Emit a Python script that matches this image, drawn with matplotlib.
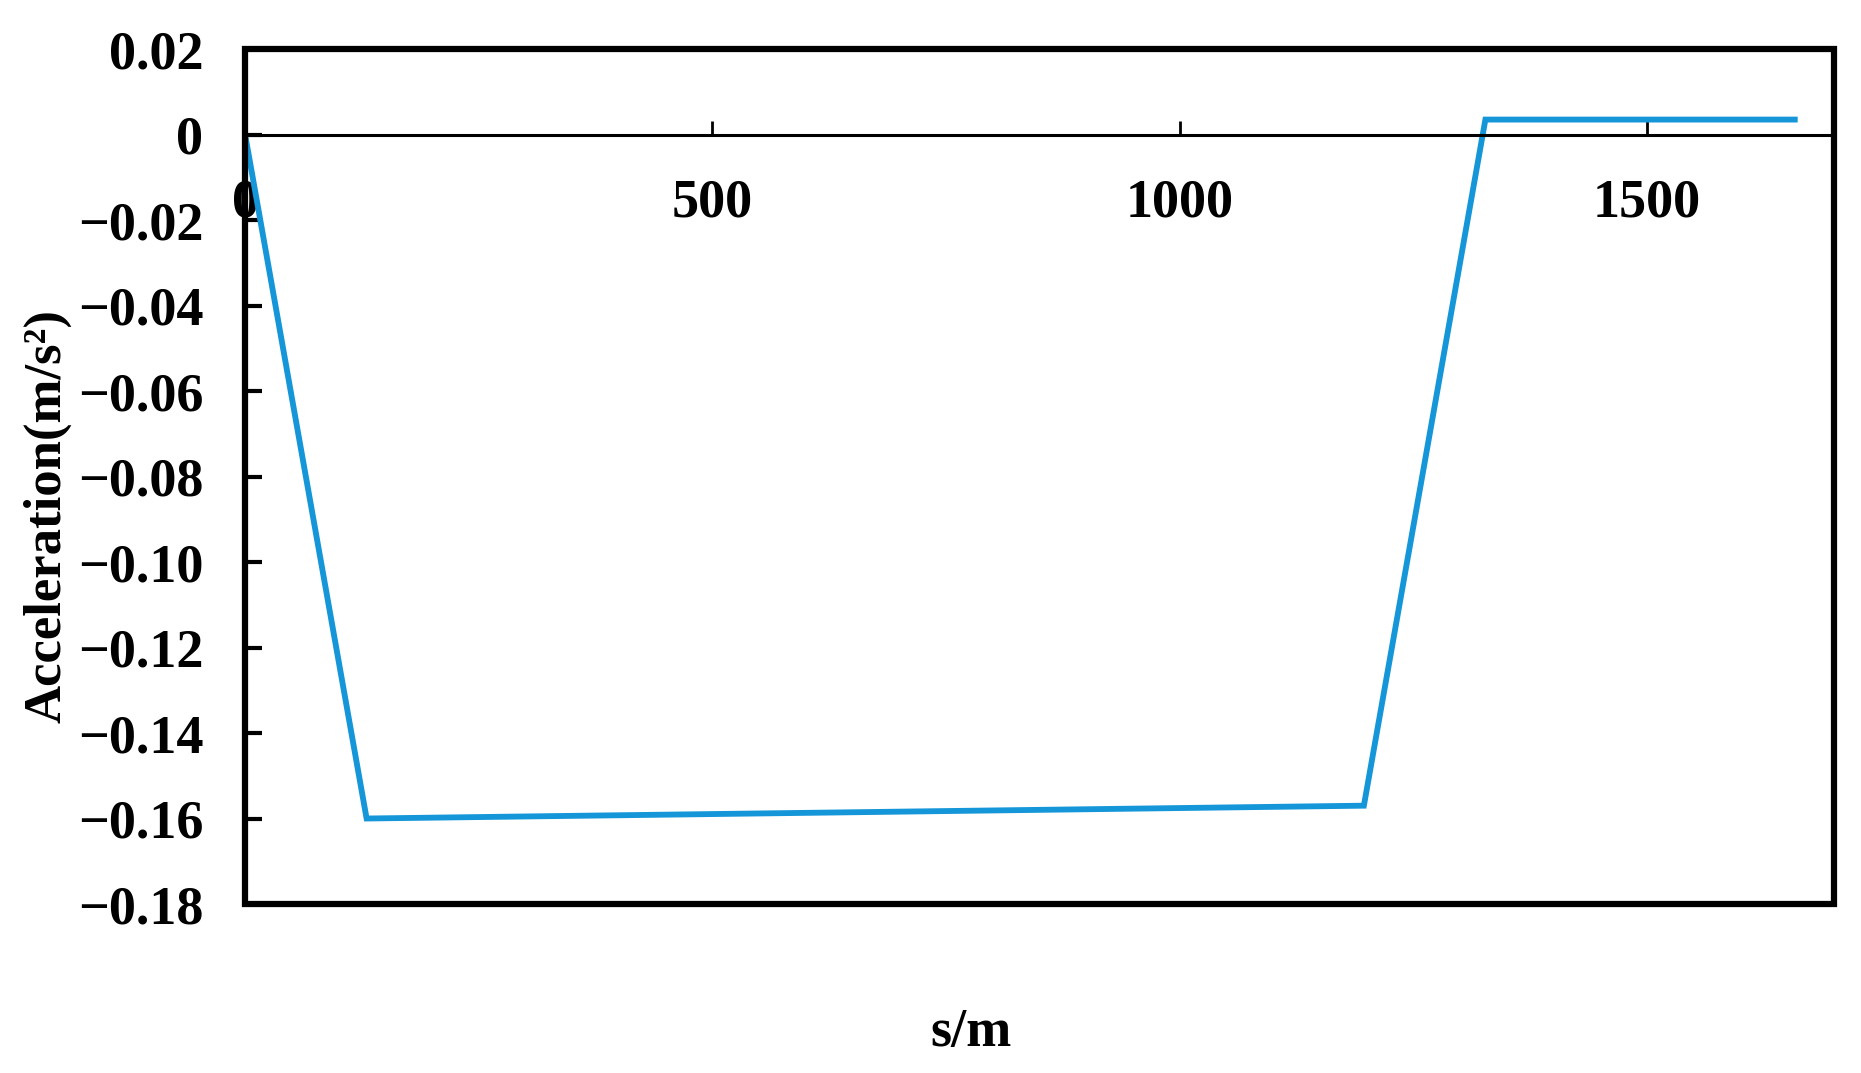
import numpy as np
import matplotlib.pyplot as plt
from matplotlib.patches import Rectangle

# distance (m) and acceleration (m/s^2)
s = [0, 130, 1197, 1327, 1658]
acc = [0.0, -0.160, -0.157, 0.0035, 0.0035]

xticks = [0, 500, 1000, 1500]
yticks = [0.02, 0, -0.02, -0.04, -0.06, -0.08, -0.10, -0.12, -0.14, -0.16, -0.18]

plt.rcParams['font.family'] = ['Liberation Serif', 'DejaVu Serif']
plt.rcParams['font.weight'] = 'bold'

fig = plt.figure(figsize=(18.61, 10.73), dpi=100)
ax = fig.add_axes([0.1317, 0.1575, 0.8538, 0.7968])

ax.plot(s, acc, color='#1596d8', lw=4.2, solid_joinstyle='miter')

ax.set_xlim(0, 1700)
ax.set_ylim(-0.18, 0.02)

# x axis sits on the zero line, the frame is drawn separately
ax.spines['bottom'].set_position(('data', 0))
ax.spines['bottom'].set_linewidth(2.2)
for k in ['top', 'left', 'right']:
    ax.spines[k].set_visible(False)
ax.add_patch(Rectangle((0, 0), 1, 1, transform=ax.transAxes, fill=False,
                       lw=4.5, ec='black', clip_on=False, zorder=5))

ax.set_xticks(xticks)
ax.set_xticklabels([str(v) for v in xticks])
ax.set_yticks(yticks)
ax.set_yticklabels(['0' if v == 0 else ('%.2f' % v).replace('-', '\u2212') for v in yticks])

ax.tick_params(axis='x', direction='in', length=10, width=2, pad=32, labelsize=39)
ax.tick_params(axis='y', direction='in', length=12, width=3, pad=30, labelsize=39, left=True)
ax.yaxis.set_ticks_position('left')

ax.set_ylabel('Acceleration(m/s\u00b2)', fontsize=38, fontweight='bold')
ax.yaxis.set_label_coords(-0.109, 0.454)
fig.text(0.522, 0.037, 's/m', fontsize=39, fontweight='bold', ha='center', va='center')

fig.savefig('out.png', dpi=100)
